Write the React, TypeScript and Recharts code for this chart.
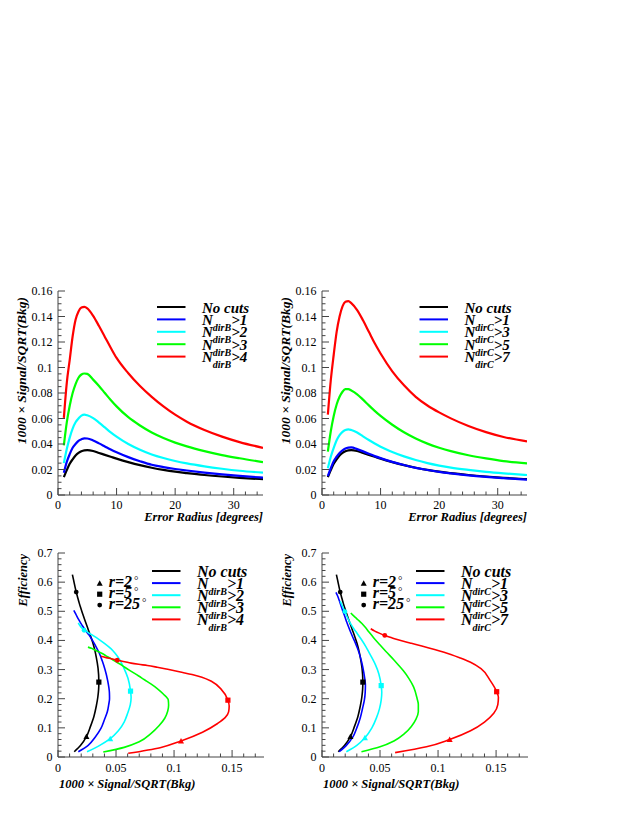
import { ComposedChart, Line, Scatter, XAxis, YAxis } from "recharts";

const FONT = "'Liberation Serif', 'DejaVu Serif', serif";
const FRAME = "#444";
const BLACK = "#000000";
const BLUE = "#0000ff";
const CYAN = "#00ffff";
const GREEN = "#00ff00";
const RED = "#ff0000";

// error radius [degrees], shared by every curve
const RADIUS = [1, 1.5, 2, 2.5, 3, 3.5, 4, 4.5, 5, 6, 7, 8, 9, 10, 12, 14, 16, 18, 20, 22, 25, 28, 31, 35];

// 1000 x Signal/SQRT(Bkg) vs error radius
const SB_NOCUT = [0.014, 0.0195, 0.0245, 0.028, 0.031, 0.033, 0.0343, 0.035, 0.0352, 0.0345, 0.033, 0.0315, 0.03, 0.0285, 0.0258, 0.0234, 0.0214, 0.0197, 0.0183, 0.0172, 0.0157, 0.0145, 0.0135, 0.0124];
const SB_DIRB1 = [0.0175, 0.026, 0.032, 0.037, 0.04, 0.0425, 0.0437, 0.0444, 0.0443, 0.0428, 0.0405, 0.0381, 0.0357, 0.0335, 0.0297, 0.0265, 0.0237, 0.0219, 0.0204, 0.0192, 0.0176, 0.0162, 0.015, 0.0136];
const SB_DIRB2 = [0.025, 0.036, 0.045, 0.052, 0.057, 0.06, 0.0623, 0.063, 0.0625, 0.0603, 0.0568, 0.053, 0.0492, 0.0458, 0.04, 0.0355, 0.0318, 0.029, 0.0267, 0.0248, 0.0225, 0.0206, 0.019, 0.0175];
const SB_DIRB3 = [0.039, 0.057, 0.07, 0.08, 0.087, 0.092, 0.0945, 0.0953, 0.095, 0.0905, 0.0855, 0.08, 0.0745, 0.0695, 0.061, 0.0545, 0.049, 0.0447, 0.0411, 0.0381, 0.0344, 0.0313, 0.0288, 0.0258];
const SB_DIRB4 = [0.0605, 0.088, 0.106, 0.1245, 0.1375, 0.144, 0.147, 0.1475, 0.1464, 0.1405, 0.1325, 0.124, 0.1155, 0.1075, 0.0955, 0.0855, 0.077, 0.0695, 0.063, 0.0575, 0.051, 0.0458, 0.0415, 0.037];

const SB_DIRC1 = [0.0148, 0.021, 0.0265, 0.03, 0.033, 0.035, 0.0365, 0.0372, 0.0374, 0.036, 0.0342, 0.0323, 0.0305, 0.0289, 0.026, 0.0235, 0.0213, 0.0196, 0.0181, 0.0169, 0.0154, 0.0142, 0.0132, 0.012];
const SB_DIRC3 = [0.021, 0.03, 0.037, 0.043, 0.047, 0.0495, 0.051, 0.0515, 0.051, 0.049, 0.046, 0.0431, 0.0404, 0.0379, 0.0338, 0.0303, 0.0274, 0.025, 0.0231, 0.0215, 0.0197, 0.0182, 0.017, 0.0157];
const SB_DIRC5 = [0.034, 0.05, 0.062, 0.071, 0.077, 0.081, 0.083, 0.083, 0.082, 0.079, 0.0748, 0.0703, 0.066, 0.062, 0.0551, 0.0492, 0.0443, 0.0403, 0.0371, 0.0344, 0.0312, 0.0287, 0.0266, 0.0248];
const SB_DIRC7 = [0.063, 0.09, 0.11, 0.128, 0.14, 0.148, 0.1515, 0.152, 0.1505, 0.145, 0.137, 0.128, 0.119, 0.111, 0.097, 0.086, 0.077, 0.0702, 0.0648, 0.0601, 0.0541, 0.0493, 0.0455, 0.042];

// efficiency vs error radius
const EFF_NOCUT = [0.018, 0.04, 0.07, 0.105, 0.14, 0.175, 0.205, 0.232, 0.257, 0.305, 0.342, 0.37, 0.392, 0.41, 0.44, 0.467, 0.49, 0.51, 0.528, 0.544, 0.566, 0.587, 0.606, 0.626];
const EFF_DIRB1 = [0.018, 0.04, 0.068, 0.098, 0.128, 0.155, 0.18, 0.2, 0.22, 0.262, 0.3, 0.33, 0.355, 0.373, 0.4, 0.42, 0.434, 0.445, 0.454, 0.462, 0.473, 0.483, 0.493, 0.503];
const EFF_DIRB2 = [0.018, 0.04, 0.063, 0.09, 0.12, 0.15, 0.18, 0.205, 0.226, 0.27, 0.305, 0.335, 0.356, 0.371, 0.39, 0.403, 0.413, 0.42, 0.425, 0.43, 0.435, 0.443, 0.45, 0.46];
const EFF_DIRB3 = [0.017, 0.033, 0.052, 0.08, 0.107, 0.133, 0.157, 0.178, 0.196, 0.217, 0.235, 0.251, 0.265, 0.278, 0.299, 0.316, 0.329, 0.34, 0.348, 0.355, 0.362, 0.368, 0.373, 0.377];
const EFF_DIRB4 = [0.0126, 0.032, 0.055, 0.085, 0.115, 0.135, 0.155, 0.175, 0.195, 0.233, 0.259, 0.274, 0.283, 0.29, 0.3, 0.308, 0.314, 0.318, 0.322, 0.327, 0.332, 0.337, 0.341, 0.346];

const EFF_DIRC1 = [0.018, 0.04, 0.068, 0.1, 0.135, 0.168, 0.195, 0.22, 0.245, 0.29, 0.325, 0.353, 0.374, 0.39, 0.416, 0.44, 0.463, 0.483, 0.499, 0.513, 0.531, 0.545, 0.555, 0.565];
const EFF_DIRC3 = [0.018, 0.04, 0.066, 0.1, 0.135, 0.165, 0.195, 0.222, 0.245, 0.285, 0.317, 0.34, 0.36, 0.378, 0.404, 0.424, 0.44, 0.455, 0.469, 0.482, 0.499, 0.512, 0.523, 0.535];
const EFF_DIRC5 = [0.018, 0.035, 0.055, 0.08, 0.105, 0.13, 0.155, 0.18, 0.2, 0.24, 0.27, 0.295, 0.315, 0.333, 0.362, 0.388, 0.41, 0.43, 0.446, 0.458, 0.47, 0.479, 0.487, 0.494];
const EFF_DIRC7 = [0.015, 0.035, 0.06, 0.09, 0.12, 0.15, 0.18, 0.205, 0.224, 0.262, 0.303, 0.325, 0.34, 0.352, 0.369, 0.381, 0.39, 0.397, 0.403, 0.409, 0.417, 0.425, 0.432, 0.44];

const CUTS_B = ["1", "2", "3", "4"];
const CUTS_C = ["1", "3", "5", "7"];

// radii marked on the efficiency curves
const MARK_RADII = [2, 5, 25];
const MARK_KINDS = ["triangle", "square", "circle"];
const MARK_LABELS = ["r=2", "r=5", "r=25"];

const RADIUS_TICKS = [0, 10, 20, 30];
const SB_TICKS = [0, 0.02, 0.04, 0.06, 0.08, 0.1, 0.12, 0.14, 0.16];
const SB_X_TICKS = [0, 0.05, 0.1, 0.15];
const EFF_TICKS = [0, 0.1, 0.2, 0.3, 0.4, 0.5, 0.6, 0.7];

type Side = "left" | "right" | "top" | "bottom";
type Series = { key: string; sb: number[]; eff: number[]; color: string; marked: boolean };

const SERIES_B: Series[] = [
  { key: "nocut", sb: SB_NOCUT, eff: EFF_NOCUT, color: BLACK, marked: true },
  { key: "b1", sb: SB_DIRB1, eff: EFF_DIRB1, color: BLUE, marked: false },
  { key: "b2", sb: SB_DIRB2, eff: EFF_DIRB2, color: CYAN, marked: true },
  { key: "b3", sb: SB_DIRB3, eff: EFF_DIRB3, color: GREEN, marked: false },
  { key: "b4", sb: SB_DIRB4, eff: EFF_DIRB4, color: RED, marked: true },
];
const SERIES_C: Series[] = [
  { key: "nocut", sb: SB_NOCUT, eff: EFF_NOCUT, color: BLACK, marked: true },
  { key: "c1", sb: SB_DIRC1, eff: EFF_DIRC1, color: BLUE, marked: false },
  { key: "c3", sb: SB_DIRC3, eff: EFF_DIRC3, color: CYAN, marked: true },
  { key: "c5", sb: SB_DIRC5, eff: EFF_DIRC5, color: GREEN, marked: false },
  { key: "c7", sb: SB_DIRC7, eff: EFF_DIRC7, color: RED, marked: true },
];

const titleStyle = { fontFamily: FONT, fontStyle: "italic", fontWeight: "bold" } as const;

function tickValues(max: number, step: number) {
  const out: number[] = [];
  for (let v = 0; v <= max + 1e-9; v += step) out.push(Math.round(v * 1e6) / 1e6);
  return out;
}

// ROOT-like ticks: drawn inside the frame, labels outside
function makeTick(side: Side, majors: number[], labelDy = 0) {
  return (props: any) => {
    const { x, y, payload } = props;
    const v = payload.value as number;
    const major = majors.some((m) => Math.abs(m - v) < 1e-9);
    const len = major ? 7 : 3.5;
    const ln =
      side === "left" ? [x, y, x + len, y]
      : side === "right" ? [x, y, x - len, y]
      : side === "bottom" ? [x, y, x, y - len]
      : [x, y, x, y + len];
    const label = String(Math.round(v * 1e4) / 1e4);
    return (
      <g>
        <line x1={ln[0]} y1={ln[1]} x2={ln[2]} y2={ln[3]} stroke={FRAME} strokeWidth={1} />
        {major && side === "left" && (
          <text x={x - 5.5} y={y + 4} textAnchor="end" style={{ fontFamily: FONT }} fontSize={12} fill="#000">
            {label}
          </text>
        )}
        {major && side === "bottom" && (
          <text x={x} y={y + labelDy} textAnchor="middle" style={{ fontFamily: FONT }} fontSize={12} fill="#000">
            {label}
          </text>
        )}
      </g>
    );
  };
}

function MarkShape({ cx, cy, kind, color }: { cx: number; cy: number; kind: string; color: string }) {
  if (kind === "triangle")
    return <polygon points={`${cx},${cy - 3} ${cx + 3},${cy + 2.5} ${cx - 3},${cy + 2.5}`} fill={color} />;
  if (kind === "square") return <rect x={cx - 2.6} y={cy - 2.6} width={5.2} height={5.2} fill={color} />;
  return <circle cx={cx} cy={cy} r={2.4} fill={color} />;
}

function CutLegend({ series, cuts, sub, x0, y0, gap, size }: { series: Series[]; cuts: string[]; sub: string; x0: number; y0: number; gap: number; size: number }) {
  return (
    <>
      {series.map((s, i) => {
        const y = y0 + i * gap;
        return (
          <g key={s.key}>
            <line x1={x0} y1={y} x2={x0 + 28.5} y2={y} stroke={s.color} strokeWidth={2} />
            {i === 0 ? (
              <text x={x0 + 45} y={y + 5.5} fontSize={size} style={titleStyle}>No cuts</text>
            ) : (
              <text x={x0 + 45} y={y + 5.5} fontSize={size} style={titleStyle}>
                <tspan>N</tspan>
                <tspan dy={6} fontSize={10}>{sub}</tspan>
                <tspan dy={-6}>{">" + cuts[i - 1]}</tspan>
              </text>
            )}
          </g>
        );
      })}
    </>
  );
}

function RadiusPanel({ left, series, cuts, sub, legendDx }: { left: number; series: Series[]; cuts: string[]; sub: string; legendDx: number }) {
  const data = RADIUS.map((r, i) => {
    const row: Record<string, number> = { r };
    series.forEach((s) => (row[s.key] = s.sb[i]));
    return row;
  });
  const xTicks = tickValues(34, 2);
  const yTicks = tickValues(0.16, 0.005);
  const common = { type: "number" as const, tickSize: 0, tickMargin: 0, tickLine: false, interval: 0 as const, allowDataOverflow: true, axisLine: { stroke: FRAME, strokeWidth: 1 } };
  return (
    <div style={{ position: "absolute", left, top: 280, width: 290, height: 250 }}>
      <ComposedChart width={290} height={250} data={data} margin={{ top: 11, right: 27, bottom: 5, left: 8 }}>
        <XAxis xAxisId="b" dataKey="r" domain={[0, 35]} ticks={xTicks} height={30} tick={makeTick("bottom", RADIUS_TICKS, 13.5)} {...common} />
        <XAxis xAxisId="t" dataKey="r" orientation="top" domain={[0, 35]} ticks={xTicks} height={0} tick={makeTick("top", RADIUS_TICKS)} {...common} />
        <YAxis yAxisId="l" domain={[0, 0.16]} ticks={yTicks} width={50} tick={makeTick("left", SB_TICKS)} {...common} />
        <YAxis yAxisId="r" orientation="right" domain={[0, 0.16]} ticks={yTicks} width={0} tick={makeTick("right", SB_TICKS)} {...common} />
        {series.map((s) => (
          <Line key={s.key} xAxisId="b" yAxisId="l" type="monotone" dataKey={s.key} stroke={s.color} strokeWidth={2.2} dot={false} isAnimationActive={false} />
        ))}
      </ComposedChart>
      <svg width={290} height={250} style={{ position: "absolute", left: 0, top: 0, pointerEvents: "none" }}>
        <text transform="rotate(-90 26 17)" x={26} y={17} textAnchor="end" fontSize={13.5} style={titleStyle}>
          1000 × Signal/SQRT(Bkg)
        </text>
        <text x={263} y={241} textAnchor="end" fontSize={12.5} style={titleStyle}>
          Error Radius [degrees]
        </text>
        <CutLegend series={series} cuts={cuts} sub={sub} x0={157 + legendDx} y0={27} gap={12.4} size={15} />
      </svg>
    </div>
  );
}

function EfficiencyPanel({ left, series, cuts, sub }: { left: number; series: Series[]; cuts: string[]; sub: string }) {
  const xTicks = tickValues(0.17, 0.01);
  const yTicks = tickValues(0.7, 0.02);
  const common = { type: "number" as const, tickSize: 0, tickMargin: 0, tickLine: false, interval: 0 as const, allowDataOverflow: true, axisLine: { stroke: FRAME, strokeWidth: 1 } };
  const marks = MARK_RADII.map((r) => RADIUS.indexOf(r));
  return (
    <div style={{ position: "absolute", left, top: 540, width: 290, height: 260 }}>
      <ComposedChart width={290} height={260} margin={{ top: 13, right: 26, bottom: 3, left: 8 }}>
        <XAxis xAxisId="b" dataKey="x" domain={[0, 0.1775]} ticks={xTicks} height={40} tick={makeTick("bottom", SB_X_TICKS, 14.5)} {...common} />
        <XAxis xAxisId="t" dataKey="x" orientation="top" domain={[0, 0.1775]} ticks={xTicks} height={0} tick={makeTick("top", SB_X_TICKS)} {...common} />
        <YAxis yAxisId="l" domain={[0, 0.7]} ticks={yTicks} width={50} tick={makeTick("left", EFF_TICKS)} {...common} />
        <YAxis yAxisId="r" orientation="right" domain={[0, 0.7]} ticks={yTicks} width={0} tick={makeTick("right", EFF_TICKS)} {...common} />
        {series.map((s) => (
          <Line
            key={s.key}
            xAxisId="b"
            yAxisId="l"
            type="monotoneY"
            data={RADIUS.map((_, i) => ({ x: s.sb[i], eff: s.eff[i] }))}
            dataKey="eff"
            stroke={s.color}
            strokeWidth={1.6}
            dot={false}
            isAnimationActive={false}
          />
        ))}
        {series
          .filter((s) => s.marked)
          .map((s) => (
            <Scatter
              key={"m" + s.key}
              xAxisId="b"
              yAxisId="l"
              data={marks.map((idx, k) => ({ x: s.sb[idx], eff: s.eff[idx], kind: MARK_KINDS[k] }))}
              dataKey="eff"
              isAnimationActive={false}
              shape={(p: any) => <MarkShape cx={p.cx} cy={p.cy} kind={p.payload.kind} color={s.color} />}
            />
          ))}
      </ComposedChart>
      <svg width={290} height={260} style={{ position: "absolute", left: 0, top: 0, pointerEvents: "none" }}>
        <text transform="rotate(-90 27 14)" x={27} y={14} textAnchor="end" fontSize={12.5} style={titleStyle}>
          Efficiency
        </text>
        <text x={59} y={248} fontSize={12.5} style={titleStyle}>
          1000 × Signal/SQRT(Bkg)
        </text>
        {MARK_LABELS.map((lab, k) => (
          <g key={lab}>
            <MarkShape cx={99.7} cy={43.3 + k * 10.9} kind={MARK_KINDS[k]} color={BLACK} />
            <text x={108.7} y={47.3 + k * 10.9} fontSize={16} style={titleStyle}>
              {lab}
              <tspan dx={2} dy={-3} fontSize={11} fontWeight="normal" fontStyle="normal">°</tspan>
            </text>
          </g>
        ))}
        <CutLegend series={series} cuts={cuts} sub={sub} x0={152} y0={31} gap={12.1} size={16} />
      </svg>
    </div>
  );
}

export default function App() {
  return (
    <div style={{ position: "absolute", left: 0, top: 0, width: 631, height: 817, background: "#fff" }}>
      <RadiusPanel left={0} series={SERIES_B} cuts={CUTS_B} sub="dirB" legendDx={0} />
      <RadiusPanel left={264} series={SERIES_C} cuts={CUTS_C} sub="dirC" legendDx={-1.5} />
      <EfficiencyPanel left={0} series={SERIES_B} cuts={CUTS_B} sub="dirB" />
      <EfficiencyPanel left={264} series={SERIES_C} cuts={CUTS_C} sub="dirC" />
    </div>
  );
}
